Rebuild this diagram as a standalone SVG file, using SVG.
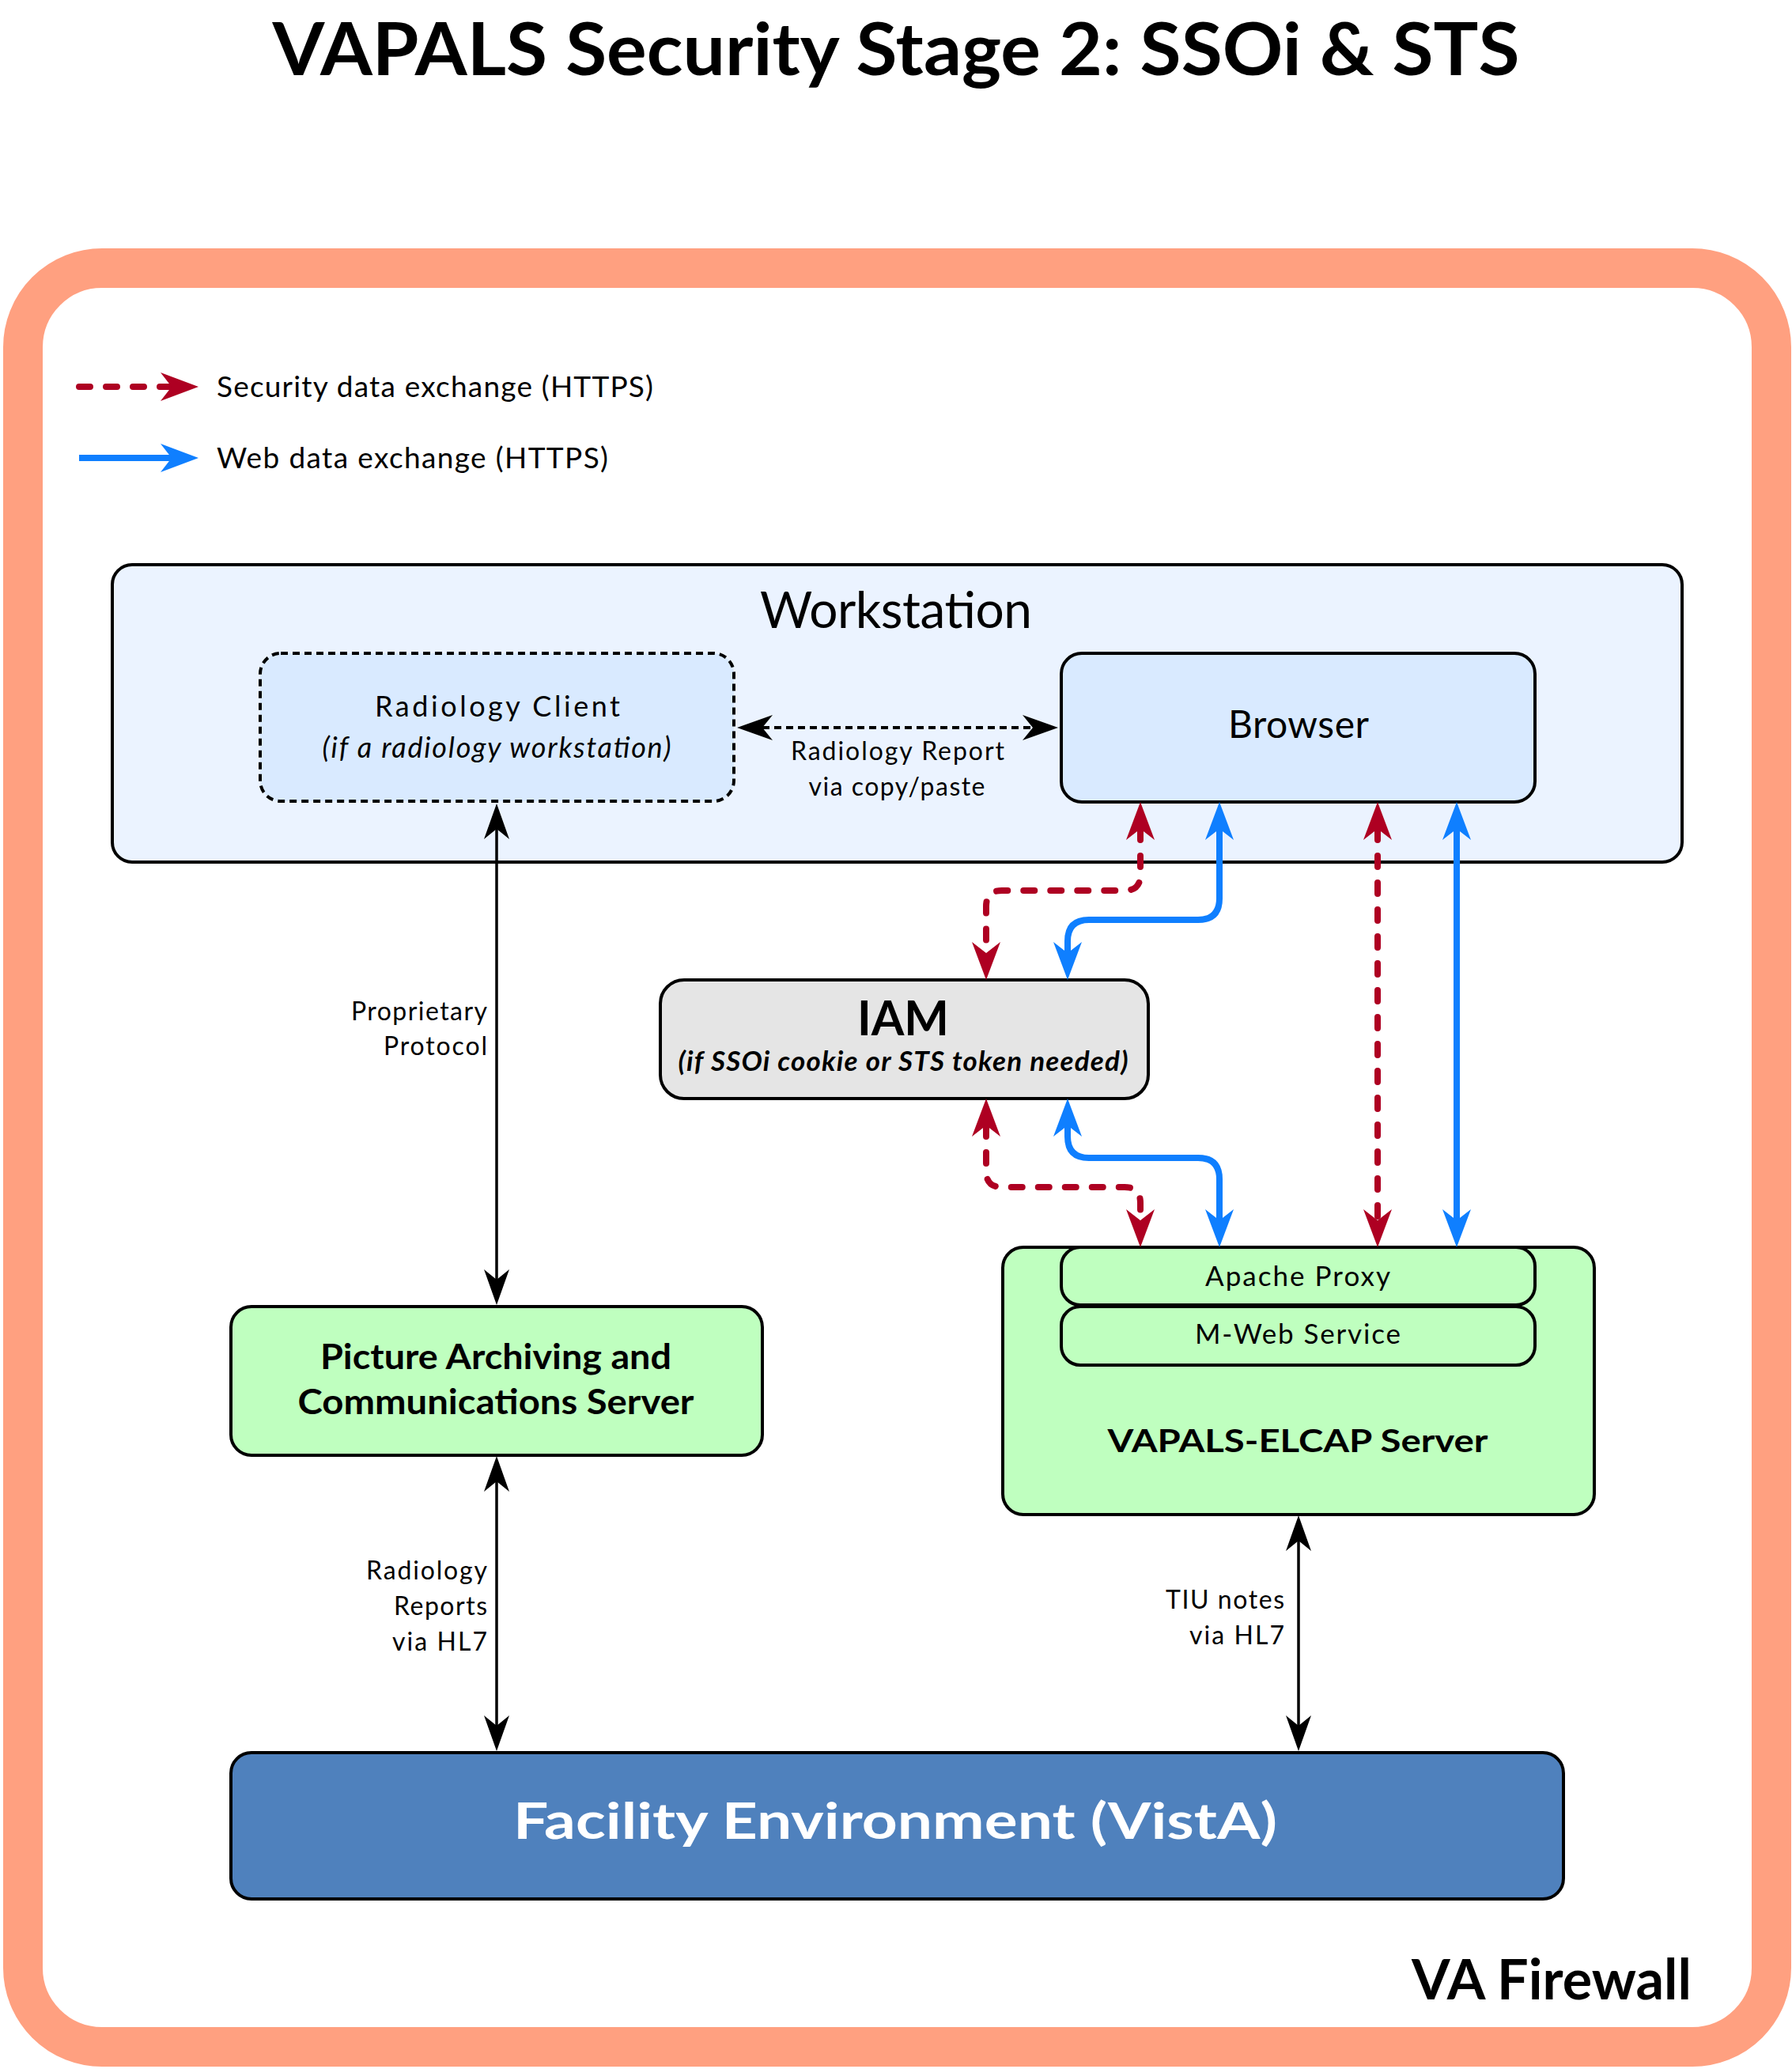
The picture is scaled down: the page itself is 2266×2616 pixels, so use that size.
<svg xmlns="http://www.w3.org/2000/svg" width="2266" height="2616" viewBox="0 0 2266 2616">
<style>
text { font-family: Lato, "Liberation Sans", sans-serif; fill: #000; }
.b { font-weight: bold; }
.i { font-style: italic; }
.node { stroke: #000; stroke-width: 4; }
.ws { fill: #EBF3FF; }
.lb { fill: #D9EAFF; }
.gr { fill: #BFFFBF; }
.iam { fill: #E5E5E5; }
.fac { fill: #4F81BD; }
.red { fill: none; stroke: #AE0022; stroke-width: 8; stroke-linecap: round; stroke-dasharray: 14 20; }
.blue { fill: none; stroke: #0F7FFF; stroke-width: 8; stroke-linecap: butt; }
.blk { fill: none; stroke: #000; stroke-width: 3.5; }
.blkd { fill: none; stroke: #000; stroke-width: 4; stroke-dasharray: 9 6; }
</style>
<defs>
<marker id="mR" markerUnits="userSpaceOnUse" viewBox="0 -20 50 40" markerWidth="50" markerHeight="40" refX="14" refY="0" orient="auto-start-reverse">
<path d="M0,-18 L48,0 L0,18 L14,0 Z" fill="#AE0022"/>
</marker>
<marker id="mB" markerUnits="userSpaceOnUse" viewBox="0 -20 50 40" markerWidth="50" markerHeight="40" refX="14" refY="0" orient="auto-start-reverse">
<path d="M0,-18 L48,0 L0,18 L14,0 Z" fill="#0F7FFF"/>
</marker>
<marker id="mK" markerUnits="userSpaceOnUse" viewBox="0 -20 50 40" markerWidth="50" markerHeight="40" refX="13" refY="0" orient="auto-start-reverse">
<path d="M0,-16 L45,0 L0,16 L13,0 Z" fill="#000"/>
</marker>
</defs>
<rect x="0" y="0" width="2266" height="2616" fill="#fff"/>
<text class="b" x="1133" y="95" font-size="92" text-anchor="middle" textLength="1577" lengthAdjust="spacingAndGlyphs">VAPALS Security Stage 2: SSOi &amp; STS</text>

<g id="firewall">
<rect x="29" y="339" width="2211" height="2249" rx="100" ry="100" fill="#fff" stroke="#FFA080" stroke-width="50"/>
<text class="b" x="2139" y="2528" font-size="70" text-anchor="end" textLength="354" lengthAdjust="spacingAndGlyphs">VA Firewall</text>
</g>

<g id="legend">
<path class="red" d="M100,489 L217,489" marker-end="url(#mR)"/>
<text x="274" y="502" font-size="37" textLength="552">Security data exchange (HTTPS)</text>
<path class="blue" stroke-linecap="round" d="M100,579 L217,579" marker-end="url(#mB)"/>
<text x="274" y="592" font-size="37" textLength="495">Web data exchange (HTTPS)</text>
</g>

<g id="workstation">
<rect class="node ws" x="142" y="714" width="1985" height="376" rx="25"/>
<text x="1133" y="794" font-size="64" text-anchor="middle" textLength="344">Workstation</text>
</g>

<g id="radiology-client">
<rect class="lb" x="329" y="826" width="599" height="187" rx="26" stroke="#000" stroke-width="4" stroke-dasharray="9 6"/>
<text x="629" y="906" font-size="36" text-anchor="middle" textLength="310">Radiology Client</text>
<text class="i" x="628" y="958" font-size="36" text-anchor="middle" textLength="441">(if a radiology workstation)</text>
</g>

<g id="browser">
<rect class="node lb" x="1342" y="826" width="599" height="188" rx="26"/>
<text x="1642" y="933" font-size="48" text-anchor="middle" textLength="178">Browser</text>
</g>

<g id="iam">
<rect class="node iam" x="835" y="1239" width="617" height="150" rx="30"/>
<text class="b" x="1142" y="1309" font-size="61" text-anchor="middle" textLength="116" lengthAdjust="spacingAndGlyphs">IAM</text>
<text class="b i" x="1142" y="1354" font-size="35" text-anchor="middle" textLength="569">(if SSOi cookie or STS token needed)</text>
</g>

<g id="pacs">
<rect class="node gr" x="292" y="1652" width="672" height="188" rx="26"/>
<text class="b" x="627" y="1731" font-size="43" text-anchor="middle" textLength="444" lengthAdjust="spacingAndGlyphs">Picture Archiving and</text>
<text class="b" x="627" y="1788" font-size="43" text-anchor="middle" textLength="501" lengthAdjust="spacingAndGlyphs">Communications Server</text>
</g>

<g id="vapals-server">
<rect class="node gr" x="1268" y="1577" width="748" height="338" rx="26"/>
<text class="b" x="1641" y="1836" font-size="41" text-anchor="middle" textLength="481" lengthAdjust="spacingAndGlyphs">VAPALS-ELCAP Server</text>
</g>
<g id="apache-proxy">
<rect class="node gr" x="1342" y="1577" width="599" height="73" rx="24"/>
<text x="1641" y="1626" font-size="35" text-anchor="middle" textLength="234">Apache Proxy</text>
</g>
<g id="mweb-service">
<rect class="node gr" x="1342" y="1652" width="599" height="74" rx="24"/>
<text x="1641" y="1699" font-size="35" text-anchor="middle" textLength="260">M-Web Service</text>
</g>

<g id="facility">
<rect class="node fac" x="292" y="2216" width="1685" height="185" rx="26"/>
<text class="b" x="1132" y="2325" font-size="64" text-anchor="middle" textLength="966" lengthAdjust="spacingAndGlyphs" style="fill:#fff">Facility Environment (VistA)</text>
</g>

<g id="connectors">
<path class="blkd" d="M964,920 L1306,920" marker-start="url(#mK)" marker-end="url(#mK)"/>
<text x="1135" y="961" font-size="32" text-anchor="middle" textLength="270">Radiology Report</text>
<text x="1134" y="1006" font-size="32" text-anchor="middle" textLength="223">via copy/paste</text>

<path class="blk" d="M628,1048 L628,1618" marker-start="url(#mK)" marker-end="url(#mK)"/>
<text x="616" y="1290" font-size="32" text-anchor="end" textLength="172">Proprietary</text>
<text x="616" y="1334" font-size="32" text-anchor="end" textLength="131">Protocol</text>

<path class="blk" d="M628,1873 L628,2182" marker-start="url(#mK)" marker-end="url(#mK)"/>
<text x="616" y="1997" font-size="32" text-anchor="end" textLength="153">Radiology</text>
<text x="616" y="2042" font-size="32" text-anchor="end" textLength="118">Reports</text>
<text x="616" y="2087" font-size="32" text-anchor="end" textLength="120">via HL7</text>

<path class="blk" d="M1642,1948 L1642,2182" marker-start="url(#mK)" marker-end="url(#mK)"/>
<text x="1624" y="2034" font-size="32" text-anchor="end" textLength="150">TIU notes</text>
<text x="1624" y="2079" font-size="32" text-anchor="end" textLength="120">via HL7</text>

<path class="red" d="M1442,1048 L1442,1106 Q1442,1126 1422,1126 L1267,1126 Q1247,1126 1247,1146 L1247,1205" marker-start="url(#mR)" marker-end="url(#mR)"/>
<path class="blue" d="M1542,1048 L1542,1136 Q1542,1163 1515,1163 L1377,1163 Q1350,1163 1350,1190 L1350,1205" marker-start="url(#mB)" marker-end="url(#mB)"/>
<path class="red" d="M1247,1423 L1247,1481 Q1247,1501 1267,1501 L1422,1501 Q1442,1501 1442,1521 L1442,1543" marker-start="url(#mR)" marker-end="url(#mR)"/>
<path class="blue" d="M1350,1423 L1350,1437 Q1350,1464 1377,1464 L1515,1464 Q1542,1464 1542,1491 L1542,1543" marker-start="url(#mB)" marker-end="url(#mB)"/>
<path class="red" d="M1742,1048 L1742,1543" marker-start="url(#mR)" marker-end="url(#mR)"/>
<path class="blue" d="M1842,1048 L1842,1543" marker-start="url(#mB)" marker-end="url(#mB)"/>
</g>
</svg>
